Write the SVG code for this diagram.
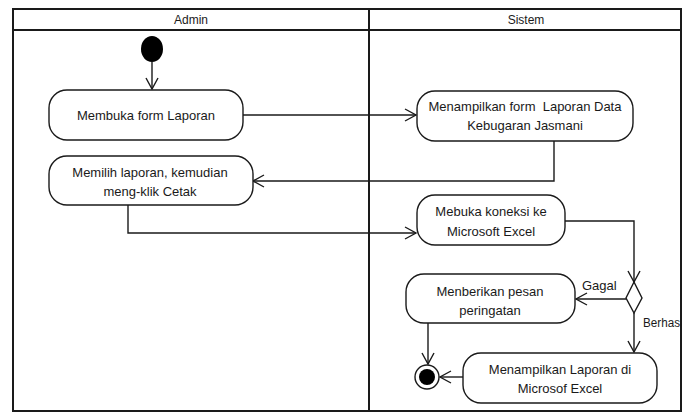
<svg xmlns="http://www.w3.org/2000/svg" width="683" height="416" viewBox="0 0 683 416">
<defs>
<style>
.frame{fill:none;stroke:#1a1a1a;stroke-width:2}
.node{fill:#fff;stroke:#1a1a1a;stroke-width:1.4}
.t{font-family:"Liberation Sans",Arial,sans-serif;font-size:13px;fill:#1a1a1a;text-anchor:middle;white-space:pre}
.h{font-family:"Liberation Sans",Arial,sans-serif;font-size:12px;fill:#1a1a1a;text-anchor:middle}
.lbl{font-family:"Liberation Sans",Arial,sans-serif;font-size:13px;fill:#1a1a1a}
.c{fill:none;stroke:#1a1a1a;stroke-width:1.4}
</style>
<marker id="arr" markerUnits="userSpaceOnUse" markerWidth="14" markerHeight="16" refX="12" refY="7" orient="auto">
<path d="M1,1 L12,7 L1,13" fill="none" stroke="#1a1a1a" stroke-width="1.4"/>
</marker>
</defs>
<rect width="683" height="416" fill="#fff"/>
<g id="swimlanes">
<rect class="frame" x="13" y="9" width="668" height="402"/>
<line class="frame" x1="13" y1="30" x2="681" y2="30"/>
<line class="frame" x1="369" y1="9" x2="369" y2="411"/>
<text class="h" x="191" y="24">Admin</text>
<text class="h" x="526" y="24">Sistem</text>
</g>
<g id="connectors">
<path class="c" d="M152,62 V89" marker-end="url(#arr)"/>
<path class="c" d="M243,115 H416" marker-end="url(#arr)"/>
<path class="c" d="M554,141 V181 H253" marker-end="url(#arr)"/>
<path class="c" d="M128,205 V233 H416" marker-end="url(#arr)"/>
<path class="c" d="M565,221 H634 V282" marker-end="url(#arr)"/>
<path class="c" d="M626,299 H576" marker-end="url(#arr)"/>
<path class="c" d="M634,313 V352" marker-end="url(#arr)"/>
<path class="c" d="M463,377 H440" marker-end="url(#arr)"/>
<path class="c" d="M428,323 V364" marker-end="url(#arr)"/>
<text class="lbl" x="582" y="290">Gagal</text>
<text class="lbl" x="643" y="327" style="font-size:12px" textLength="37" lengthAdjust="spacingAndGlyphs">Berhas</text>
</g>
<g id="start">
<ellipse cx="152" cy="49" rx="11" ry="13" fill="#000"/>
</g>
<g id="n1">
<rect class="node" x="49" y="90" width="194" height="50" rx="18"/>
<text class="t" x="146" y="120">Membuka form Laporan</text>
</g>
<g id="n2">
<rect class="node" x="417" y="91" width="216" height="50" rx="18"/>
<text class="t" x="525" y="111">Menampilkan form  Laporan Data</text>
<text class="t" x="525" y="130">Kebugaran Jasmani</text>
</g>
<g id="n3">
<rect class="node" x="49" y="156" width="204" height="49" rx="18"/>
<text class="t" x="150" y="177">Memilih laporan, kemudian</text>
<text class="t" x="150" y="196">meng-klik Cetak</text>
</g>
<g id="n4">
<rect class="node" x="417" y="195" width="148" height="50" rx="18"/>
<text class="t" x="491" y="216">Mebuka koneksi ke</text>
<text class="t" x="491" y="236">Microsoft Excel</text>
</g>
<g id="decision">
<polygon class="node" points="634,282 642,298 634,313 626,298"/>
</g>
<g id="n5">
<rect class="node" x="406" y="274" width="169" height="49" rx="18"/>
<text class="t" x="490" y="296">Menberikan pesan</text>
<text class="t" x="490" y="315">peringatan</text>
</g>
<g id="n6">
<rect class="node" x="463" y="353" width="194" height="50" rx="18"/>
<text class="t" x="560" y="374">Menampilkan Laporan di</text>
<text class="t" x="560" y="393">Microsof Excel</text>
</g>
<g id="end">
<circle cx="427" cy="377" r="12" fill="#fff" stroke="#1a1a1a" stroke-width="1.4"/>
<circle cx="427" cy="377" r="8" fill="#000"/>
</g>
</svg>
